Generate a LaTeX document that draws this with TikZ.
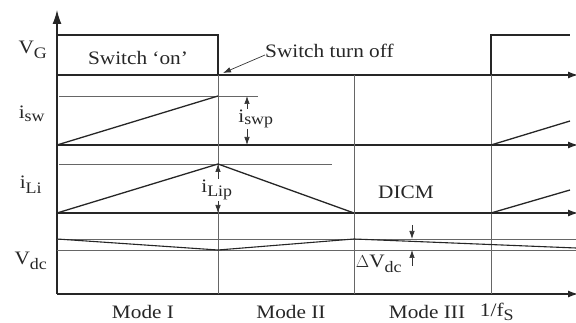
\documentclass[tikz,border=0pt]{standalone}
\usepackage{fontspec}
\setmainfont{Liberation Serif}[FakeStretch=1.12]
\usetikzlibrary{arrows.meta}
\newcommand{\sbs}[1]{\textsubscript{\fontsize{16}{17}\selectfont #1}}
\begin{document}
\begin{tikzpicture}[x=1pt,y=-1pt,
  axis/.style={line width=1.3pt,draw=black!85},
  axarrow/.style={axis,-{Latex[length=10pt,width=7pt]}},
  thinline/.style={line width=0.6pt,draw=black!60},
  wave/.style={line width=1.3pt,draw=black!85},
  tip/.tip={Latex[length=8pt,width=5.5pt]},
  dim/.style={line width=0.7pt,draw=black!80,-tip},
  lbl/.style={font=\fontsize{19}{22}\selectfont,inner sep=1pt,text=black!85},
  wlbl/.style={lbl,fill=white}]
\useasboundingbox (0,0) rectangle (576,323);
% coordinates
\coordinate (O) at (57,294);
\coordinate (Top) at (57,10);
\foreach \n/\y in {g/75,s/145,l/213,b/294}{
  \coordinate (\n0) at (57,\y);
  \coordinate (\n1) at (578,\y);
}
% vertical axis
\draw[axis,-{Latex[length=14pt,width=9pt]}] (O) -- (Top);
% horizontal axes
\foreach \n in {g,s,l,b}{\draw[axarrow] (\n0) -- (\n1);}
% thin reference lines
\coordinate (v0) at (57,239); \coordinate (v1) at (576,239);
\coordinate (w0) at (57,250); \coordinate (w1) at (576,250);
\draw[thinline] (v0) -- (v1);
\draw[thinline] (w0) -- (w1);
\coordinate (sp0) at (59,96); \coordinate (sp1) at (258,96);
\coordinate (lp0) at (59,164); \coordinate (lp1) at (332,164);
\draw[thinline] (sp0) -- (sp1);
\draw[thinline] (lp0) -- (lp1);
% vertical mode lines
\coordinate (m1t) at (218,75); \coordinate (m1b) at (218,294);
\coordinate (m2t) at (354,75); \coordinate (m2b) at (354,294);
\coordinate (m3t) at (491,75); \coordinate (m3b) at (491,294);
\draw[thinline] (m1t) -- (m1b);
\draw[thinline] (m2t) -- (m2b);
\draw[thinline] (m3t) -- (m3b);
% VG
\coordinate (g1) at (57,35); \coordinate (g2) at (218,35); \coordinate (g3) at (218,75);
\coordinate (g4) at (491,75); \coordinate (g5) at (491,35); \coordinate (g6) at (570,35);
\draw[wave] (g1) -- (g2) -- (g3);
\draw[wave] (g4) -- (g5) -- (g6);
% isw
\coordinate (s1) at (218,96); \coordinate (s2) at (491,145); \coordinate (s3) at (570,121);
\draw[wave] (s0) -- (s1);
\draw[wave] (s2) -- (s3);
% iLi
\coordinate (l1) at (218,164); \coordinate (l2) at (354,213);
\coordinate (l3) at (491,213); \coordinate (l4) at (570,190);
\draw[wave] (l0) -- (l1) -- (l2);
\draw[wave] (l3) -- (l4);
% Vdc
\coordinate (d1) at (218,250); \coordinate (d2) at (354,239); \coordinate (d3) at (576,248);
\draw[wave,line width=1.1pt] (v0) -- (d1) -- (d2) -- (d3);
% isw peak dimension
\coordinate (a1) at (247,96); \coordinate (a2) at (247,145);
\draw[dim,tip-tip] (a1) -- (a2);
\node[wlbl] (iswp) at (256,119) {i\sbs{swp}};
% iLi peak dimension
\coordinate (b1) at (218,164); \coordinate (b2) at (218,213);
\draw[dim,tip-tip] (b1) -- (b2);
\node[wlbl] (ilip) at (217,190) {i\sbs{Lip}};
% Delta Vdc arrows
\coordinate (c1) at (412,225); \coordinate (c2) at (412,239);
\coordinate (c3) at (412,266); \coordinate (c4) at (412,250);
\draw[dim] (c1) -- (c2);
\draw[dim] (c3) -- (c4);
\node[lbl] (dv) at (379,264) {$\Delta$V\sbs{dc}};
% axis labels
\node[lbl] (VG) at (33,50) {V\sbs{G}};
\node[lbl] (isw) at (32,114) {i\sbs{sw}};
\node[lbl] (iLi) at (31,185) {i\sbs{Li}};
\node[lbl] (Vdc) at (31,261) {V\sbs{dc}};
% texts
\node[lbl] (on) at (138,58) {Switch ‘on’};
\node[lbl,anchor=west] (off) at (264,51) {Switch turn off};
\coordinate (offtip) at (223,73);
\draw[dim] (off.west) ++(1,4) coordinate (offtail) -- (offtip);
\node[lbl] (dicm) at (406,192) {DICM};
\node[lbl] (m1) at (143,312) {Mode I};
\node[lbl] (m2) at (291,312) {Mode II};
\node[lbl] (m3) at (427,312) {Mode III};
\node[lbl] (fs) at (497,312) {1/f\sbs{S}};
\end{tikzpicture}
\end{document}
